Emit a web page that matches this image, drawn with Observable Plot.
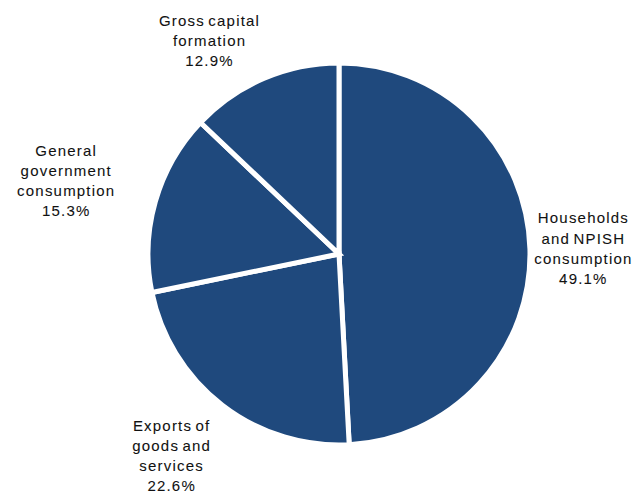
<!DOCTYPE html>
<html><head><meta charset="utf-8">
<script src="https://cdn.jsdelivr.net/npm/d3@7"></script>
<script src="https://cdn.jsdelivr.net/npm/@observablehq/plot@0.6"></script>
<style>
html,body{margin:0;padding:0;background:#fff;}
#chart svg text{letter-spacing:1.2px;word-spacing:-2px;}
</style>
</head><body><div id="chart"></div>
<script>
// ---- data ----
const categories = ["Households and NPISH consumption", "Exports of goods and services", "General government consumption", "Gross capital formation"];
const labelLines = [["Households", "and NPISH", "consumption"], ["Exports of", "goods and", "services"], ["General", "government", "consumption"], ["Gross capital", "formation"]];
const shares = [49.1, 22.6, 15.3, 12.9];

// ---- layout ----
const W = 634, H = 496;
const CX = 339, CY = 254;      // pie centre (px)
const R = 191;                 // arc radius (px), white border eats ~2.5px
const FONT = 15, LS = 1.2, LH = 1.34, FAMILY = '"Liberation Sans", Arial, sans-serif';
const FILL = "#1f497d";

const table = categories.map((c, i) => ({category: c, lines: labelLines[i], share: shares[i]}));
const arcs = d3.pie().sort(null).value(d => d.share)(table);

// text measurement
const ctx = document.createElement("canvas").getContext("2d");
ctx.font = `${FONT}px ${FAMILY}`;
const measure = s => ctx.measureText(s).width + LS * s.length - 2 * (s.split(" ").length - 1);

const Rvis = R - 2;
const labels = arcs.map(a => {
  const m = (a.startAngle + a.endAngle) / 2;
  const dx = Math.sin(m), dy = -Math.cos(m);
  const lines = [...a.data.lines, a.data.share.toFixed(1) + "%"];
  const w = d3.max(lines, measure), h = lines.length * FONT * LH;
  const X = Rvis * (1.03 + 0.22 * dx * dx);
  const ax = CX + dx * X, ay = CY + dy * X;
  const sx = Math.abs(dx) > 0.3 ? Math.sign(dx) : dx / 0.3;
  const sy = Math.abs(dy) > 0.5 ? Math.sign(dy) : dy;
  let px = ax + sx * w / 2, py = ay + sy * h / 2;
  const mg = 2;
  px = Math.max(w / 2 + mg, Math.min(W - w / 2 - mg, px));
  py = Math.max(h / 2 + mg, Math.min(H - h / 2 - mg, py));
  return {text: lines.join("\n"), x: (px - CX) / R, y: (CY - py) / R};
});

function pieMark(index, scales, values, dimensions, context) {
  const x = scales.x, y = scales.y;
  const ox = x(0), oy = y(0), rad = x(1) - x(0);
  const arc = d3.arc().innerRadius(0).outerRadius(rad);
  const g = d3.create("svg:g").attr("transform", `translate(${ox},${oy})`);
  g.selectAll("path").data(arcs).join("path")
    .attr("d", arc)
    .attr("fill", FILL)
    .attr("stroke", "#fff")
    .attr("stroke-width", 5)
    .attr("stroke-linejoin", "miter");
  return g.node();
}

const chart = Plot.plot({
  width: W, height: H,
  margin: 0,
  style: {background: "#fff", fontFamily: FAMILY},
  x: {domain: [-CX / R, (W - CX) / R], axis: null},
  y: {domain: [-(H - CY) / R, CY / R], axis: null},
  marks: [
    pieMark,
    Plot.text(labels, {x: "x", y: "y", text: "text", fontSize: FONT, lineHeight: LH, fill: "#111", stroke: "#111", strokeWidth: 0.08, textAnchor: "middle"})
  ]
});
document.getElementById("chart").appendChild(chart);
</script>
</body></html>
